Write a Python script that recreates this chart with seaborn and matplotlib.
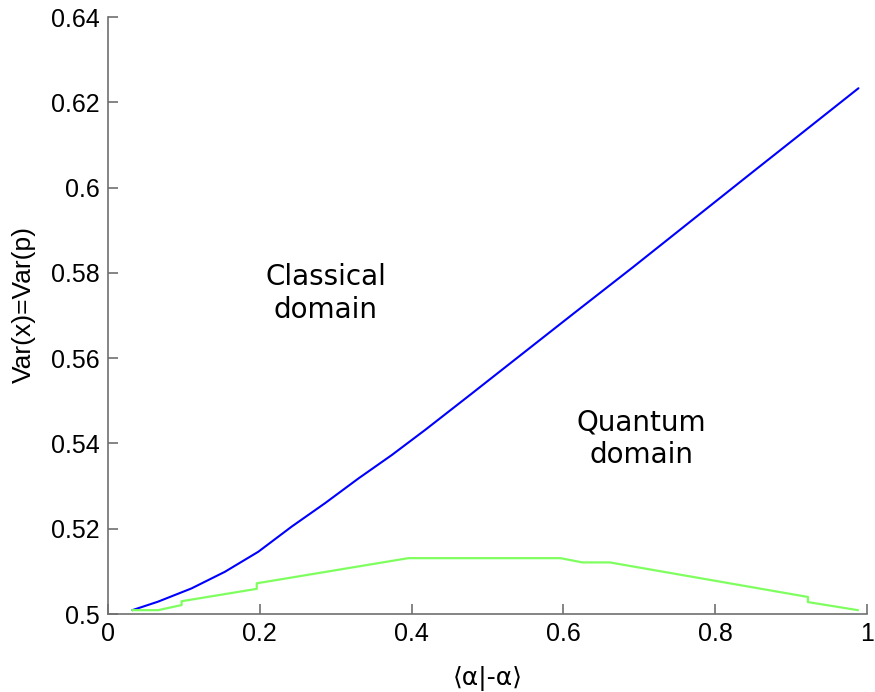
import numpy as np
import pandas as pd
import matplotlib
matplotlib.use("Agg")
import matplotlib.pyplot as plt
import seaborn as sns

# Classical/quantum boundary (blue) sampled along the overlap axis
boundary_x = [0.032, 0.066, 0.110, 0.154, 0.198, 0.242, 0.286, 0.330, 0.374, 0.418,
              0.4785, 0.5385, 0.615, 0.692, 0.769, 0.846, 0.917, 0.9886]
boundary_y = [0.5009, 0.5029, 0.5060, 0.5099, 0.5146, 0.5205, 0.5260, 0.5318, 0.5373, 0.5432,
              0.5516, 0.5600, 0.5707, 0.5814, 0.5923, 0.6032, 0.6132, 0.6233]

# Lower bound (green), piecewise with small steps
lower_x = [0.032, 0.066, 0.097, 0.097, 0.196, 0.196, 0.3957, 0.596, 0.625, 0.661, 0.922, 0.922, 0.988]
lower_y = [0.5009, 0.5009, 0.5021, 0.5030, 0.5059, 0.5072, 0.5131, 0.5131, 0.5121, 0.5121, 0.5040, 0.5028, 0.5009]

x_ticks = [0, 0.2, 0.4, 0.6, 0.8, 1]
x_tick_labels = ["0", "0.2", "0.4", "0.6", "0.8", "1"]
y_ticks = [0.5, 0.52, 0.54, 0.56, 0.58, 0.6, 0.62, 0.64]
y_tick_labels = ["0.5", "0.52", "0.54", "0.56", "0.58", "0.6", "0.62", "0.64"]

sns.set_theme(style="white")
plt.rcParams["font.family"] = ["Liberation Sans", "DejaVu Sans"]
plt.rcParams["text.color"] = "black"
plt.rcParams["axes.labelcolor"] = "black"

fig = plt.figure(figsize=(8.75, 6.92), dpi=100)
ax = fig.add_axes([0.1234, 0.1127, 0.8676, 0.8627])

df_b = pd.DataFrame({"x": boundary_x, "y": boundary_y})
df_l = pd.DataFrame({"x": lower_x, "y": lower_y})
sns.lineplot(data=df_b, x="x", y="y", ax=ax, color="#0000ff", lw=1.5,
             sort=False, estimator=None)
sns.lineplot(data=df_l, x="x", y="y", ax=ax, color="#7fff5f", lw=1.6,
             sort=False, estimator=None)

ax.set_xlim(0, 1)
ax.set_ylim(0.5, 0.64)
ax.set_xticks(x_ticks)
ax.set_xticklabels(x_tick_labels)
ax.set_yticks(y_ticks)
ax.set_yticklabels(y_tick_labels)

for side in ("top", "right"):
    ax.spines[side].set_visible(False)
for side in ("left", "bottom"):
    ax.spines[side].set_color("#707070")
    ax.spines[side].set_linewidth(1.2)

ax.tick_params(axis="both", direction="in", length=7, width=1.2, color="#707070",
               labelsize=18, labelcolor="black", pad=6, left=True, bottom=True)

ax.set_xlabel("⟨α|-α⟩", fontsize=18, family=["DejaVu Sans"], labelpad=14)
ax.set_ylabel("Var(x)=Var(p)", fontsize=19, va="center")
ax.yaxis.set_label_coords(-0.111, 0.518)

ax.text(0.287, 0.5752, "Classical\ndomain", ha="center", va="center",
        fontsize=20, family=["DejaVu Sans"], linespacing=1.2, color="black")
ax.text(0.703, 0.5412, "Quantum\ndomain", ha="center", va="center",
        fontsize=20, family=["DejaVu Sans"], linespacing=1.2, color="black")

fig.savefig("out.png", dpi=100)
